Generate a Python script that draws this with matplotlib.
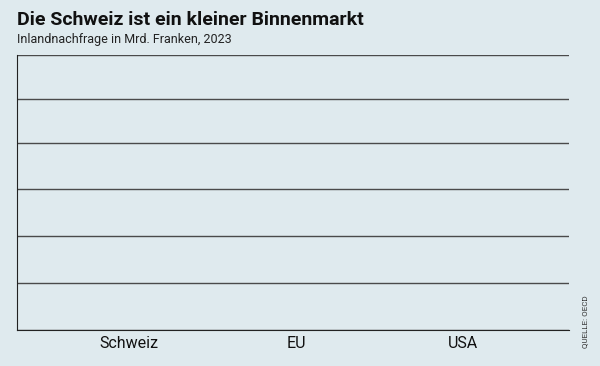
import numpy as np
import matplotlib.pyplot as plt

categories = ["Schweiz", "EU", "USA"]
values = [0, 0, 0]  # no bars are shown in the chart
grid_levels = [0, 47, 94, 141, 187, 231, 275]

bg = "#dfeaee"
font = ["Roboto", "Liberation Sans", "DejaVu Sans"]

fig = plt.figure(figsize=(6, 3.66), dpi=100, facecolor=bg)
ax = fig.add_axes([17 / 600, 1 - 330 / 366, 552 / 600, 275 / 366])
ax.set_facecolor(bg)

x = np.arange(len(categories))
ax.bar(x, values, width=0.6, color="#c0392b")

ax.set_xlim(-0.671, 2.635)
ax.set_ylim(grid_levels[0], grid_levels[-1])
ax.set_yticks(grid_levels)
ax.set_yticklabels([])
ax.yaxis.grid(True, color="#4a4a4a", linewidth=1)
ax.tick_params(axis="y", length=0)
ax.tick_params(axis="x", length=0, pad=4)
ax.set_xticks(x)
ax.set_xticklabels(categories, family=font, fontsize=11.5, color="#111111")

for s in ["top", "right"]:
    ax.spines[s].set_visible(False)
ax.spines["left"].set_color("#222222")
ax.spines["bottom"].set_color("#222222")

fig.text(17 / 600, 1 - 25 / 366, "Die Schweiz ist ein kleiner Binnenmarkt",
         family=font, fontsize=14, fontweight="bold", color="#111111")
fig.text(17 / 600, 1 - 43 / 366, "Inlandnachfrage in Mrd. Franken, 2023",
         family=font, fontsize=9, color="#222222")
fig.text(585 / 600, 1 - 322 / 366, "QUELLE: OECD", rotation=90,
         family=font, fontsize=5.8, color="#333333", ha="center", va="center")

fig.savefig("out.png", dpi=100, facecolor=bg)
